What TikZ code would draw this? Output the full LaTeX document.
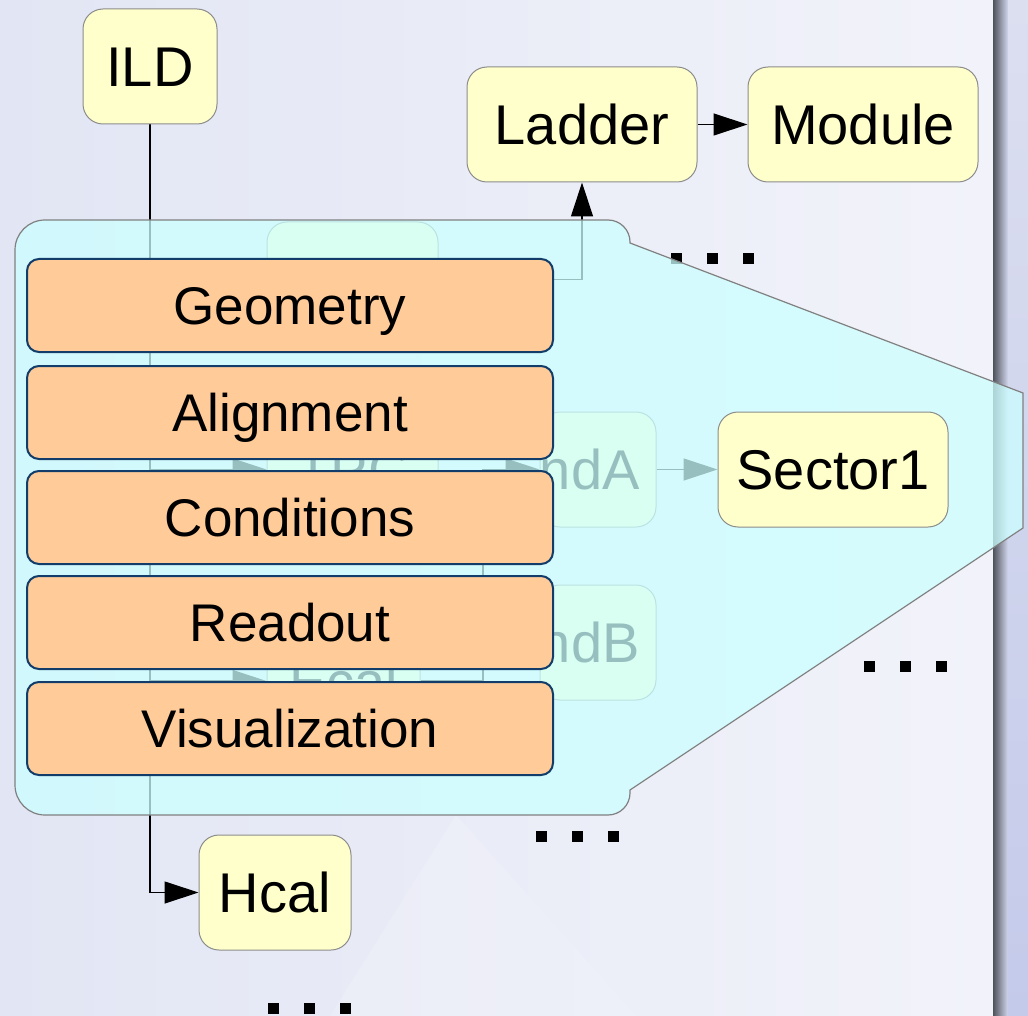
\documentclass[tikz,border=0pt]{standalone}
\usepackage{fontspec}
\setmainfont{Liberation Sans}
\usetikzlibrary{arrows.meta}

\definecolor{detfill}{HTML}{FFFFCC}
\definecolor{detline}{HTML}{8C8C8C}
\definecolor{partfill}{HTML}{FFCC99}
\definecolor{partline}{HTML}{123C69}
\definecolor{veilfill}{HTML}{CCFFFF}
\definecolor{bgleft}{HTML}{E2E6F4}
\definecolor{bgright}{HTML}{F2F3FA}
\definecolor{bardark}{HTML}{4E525A}
\definecolor{barlight}{HTML}{D3D7EE}
\definecolor{striptop}{HTML}{DCDFF0}
\definecolor{stripbot}{HTML}{C4CAEA}

\pgfdeclarelayer{backdrop}
\pgfdeclarelayer{under}
\pgfdeclarelayer{veil}
\pgfsetlayers{backdrop,under,veil,main}

\tikzset{
  detbox/.style={draw=detline, fill=detfill, line width=0.5pt, rounded corners=10pt,
    minimum width=115pt, minimum height=57.5pt, inner sep=0pt,
    text height=20pt, text depth=0pt, font=\fontsize{28}{30}\selectfont},
  partbox/.style={draw=partline, fill=partfill, line width=1pt, rounded corners=6pt,
    minimum width=263pt, minimum height=46.5pt, inner sep=0pt,
    text height=19pt, text depth=0pt, font=\fontsize{26.5}{30}\selectfont},
  link/.style={draw=black, line width=0.6pt},
  arrowed/.style={-{Triangle[length=17pt,width=11pt]}},
}

\begin{document}
\begin{tikzpicture}[x=0.5pt, y=-0.5pt]
\useasboundingbox (0,0) rectangle (1028,1016);

% detector tree
\node [detbox, minimum width=67pt] (ild) at (150,66.5) {ILD};
\node [detbox] (ladder) at (582,124.5) {Ladder};
\node [detbox] (module) at (863,124.5) {Module};
\node [detbox] (sector) at (833,469.5) {Sector1};
\node [detbox, minimum width=76pt] (hcal) at (275,892.5) {Hcal};

% DetElement extensions
\node [partbox] (geo) at (290,305.5) {Geometry};
\node [partbox] (align) at (290,412.5) {Alignment};
\node [partbox] (cond) at (290,517.5) {Conditions};
\node [partbox] (read) at (290,622.5) {Readout};
\node [partbox] (vis) at (290,728.5) {Visualization};

\begin{pgfonlayer}{backdrop}
\shade [left color=bgleft, right color=bgright] (0,0) rectangle (993,1016);
\fill [white, opacity=0.15] (456,815) -- (330,1016) -- (636,1016) -- cycle;
\shade [left color=bardark, right color=barlight] (993,0) rectangle (1008,1016);
\shade [top color=striptop, bottom color=stripbot] (1008,0) rectangle (1028,1016);
\end{pgfonlayer}

\begin{pgfonlayer}{under}
\node [detbox, minimum width=85.5pt] (vxd) at (352.5,279.5) {VXD};
\node [detbox, minimum width=85.5pt] (tpc) at (352.5,469.5) {TPC};
\node [detbox, minimum width=76.5pt] (ecal) at (343.5,681) {Ecal};
\node [detbox, minimum width=58pt, path picture={
  \node [anchor=east, inner sep=0pt, text height=20pt, text depth=0pt,
    font=\fontsize{28}{30}\selectfont] at ([xshift=-8pt]path picture bounding box.east) {EndA};}]
  (enda) at (598,469.5) {};
\node [detbox, minimum width=58pt, path picture={
  \node [anchor=east, inner sep=0pt, text height=20pt, text depth=0pt,
    font=\fontsize{28}{30}\selectfont] at ([xshift=-8pt]path picture bounding box.east) {EndB};}]
  (endb) at (598,642.5) {};

\draw [link, arrowed] (ild.south) |- (hcal.west);
\draw [link, arrowed] (ild.south |- vxd.west) -- (vxd.west);
\draw [link, arrowed] (ild.south |- tpc.west) -- (tpc.west);
\draw [link, arrowed] (ild.south |- ecal.west) -- (ecal.west);
\draw [link, arrowed] (vxd.east) -| (ladder.south);
\draw [link, arrowed] (ladder) -- (module);
\coordinate (fork) at (483,681);
\draw [link] (ecal.east) -- (fork);
\draw [link, arrowed] (fork) |- (enda.west);
\draw [link, arrowed] (fork) |- (endb.west);
\draw [link, arrowed] (enda) -- (sector);

% more of the same
\foreach \x/\y in {712/259, 905/666, 577/836, 309/1008}
  \foreach \d in {-36,0,36}
    \fill [black] ({\x+\d-5.5},{\y-5.5}) rectangle ++(11,11);
\end{pgfonlayer}

\begin{pgfonlayer}{veil}
\path [fill=veilfill, fill opacity=0.75, draw=black!50, line width=0.6pt]
  (15,520) [rounded corners=15pt] -- (15,220) [rounded corners=11pt] -- (630,220)
  [sharp corners] -- (630,243) -- (1023,393) -- (1023,528) -- (630,790)
  [rounded corners=11pt] -- (630,815) [rounded corners=15pt] -- (15,815) -- cycle;
\end{pgfonlayer}
\end{tikzpicture}
\end{document}
